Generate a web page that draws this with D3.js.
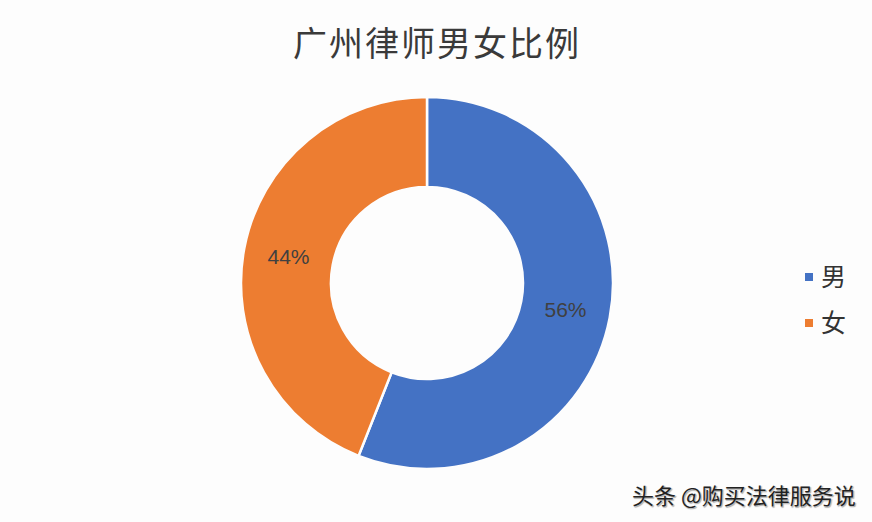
<!DOCTYPE html>
<html><head><meta charset="utf-8">
<script src="https://cdn.jsdelivr.net/npm/d3@7/dist/d3.min.js"></script>
<style>body{margin:0;background:#fdfdfd;}svg{display:block;}</style>
</head><body>
<script>
const categories = ["男", "女"];
const values = [56, 44];
const labels = ["56%", "44%"];
const colors = ["#4472C4", "#ED7D31"];
const title = "广州律师男女比例";
const watermark = "头条 @购买法律服务说";

const W = 872, H = 522;
const svg = d3.select("body").append("svg").attr("width", W).attr("height", H);
svg.append("rect").attr("width", W).attr("height", H).attr("fill", "#fdfdfd");

svg.append("text").attr("x", 437).attr("y", 56).attr("text-anchor", "middle")
  .attr("font-family", "'Noto Sans CJK SC'").attr("font-size", 34).attr("fill", "#3a3a3a")
  .attr("letter-spacing", 2).text(title);

const cx = 427, cy = 283, rO = 186, rI = 96;
const pie = d3.pie().sort(null).value(d => d)(values);
const arc = d3.arc().innerRadius(rI).outerRadius(rO);
const g = svg.append("g").attr("transform", `translate(${cx},${cy})`);
g.selectAll("path").data(pie).join("path")
  .attr("d", arc).attr("fill", (d, i) => colors[i])
  .attr("stroke", "#fdfdfd").attr("stroke-width", 2.5);
g.selectAll("text").data(pie).join("text")
  .attr("transform", d => `translate(${arc.centroid(d)})`)
  .attr("text-anchor", "middle").attr("dy", "0.35em")
  .attr("font-family", "'Liberation Sans', Arial").attr("font-size", 21).attr("fill", "#404040")
  .text((d, i) => labels[i]);

const leg = svg.append("g");
categories.forEach((c, i) => {
  const y = 277 + i * 46;
  leg.append("rect").attr("x", 805).attr("y", y - 4).attr("width", 8).attr("height", 8).attr("fill", colors[i]);
  leg.append("text").attr("x", 821).attr("y", y).attr("dy", "0.36em")
    .attr("font-family", "'Noto Sans CJK SC'").attr("font-size", 25).attr("fill", "#333").text(c);
});

svg.append("text").attr("x", 632).attr("y", 504)
  .attr("font-family", "'Noto Sans CJK SC'").attr("font-size", 22).attr("fill", "#222")
  .attr("stroke", "#fff").attr("stroke-width", 0.6).attr("paint-order", "stroke")
  .attr("style", "text-shadow: 1px 1px 1px rgba(0,0,0,0.25)")
  .text(watermark);
</script>
</body></html>
